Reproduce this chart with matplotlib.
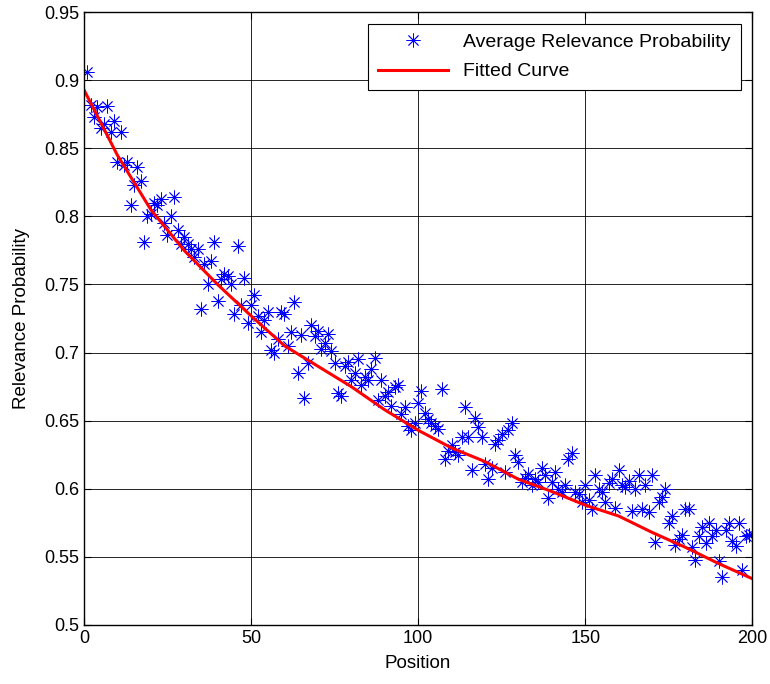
import matplotlib
matplotlib.use('Agg')
import matplotlib.pyplot as plt

plt.rcParams['font.family'] = ['Liberation Sans', 'DejaVu Sans']

# average relevance probability per position
position = list(range(1, 201))
relevance = [
    0.906, 0.882, 0.873, 0.880, 0.865, 0.868, 0.881, 0.862, 0.870, 0.840,
    0.862, 0.838, 0.840, 0.808, 0.823, 0.836, 0.826, 0.781, 0.800, 0.802,
    0.810, 0.808, 0.813, 0.795, 0.786, 0.800, 0.814, 0.790, 0.780, 0.785,
    0.780, 0.776, 0.770, 0.776, 0.732, 0.765, 0.750, 0.767, 0.781, 0.738,
    0.754, 0.758, 0.756, 0.750, 0.728, 0.778, 0.735, 0.755, 0.722, 0.735,
    0.742, 0.727, 0.715, 0.724, 0.730, 0.702, 0.700, 0.710, 0.730, 0.728,
    0.705, 0.715, 0.737, 0.685, 0.713, 0.667, 0.692, 0.720, 0.712, 0.716,
    0.703, 0.707, 0.714, 0.701, 0.692, 0.670, 0.668, 0.690, 0.693, 0.680,
    0.685, 0.695, 0.676, 0.682, 0.680, 0.688, 0.696, 0.665, 0.680, 0.668,
    0.671, 0.661, 0.675, 0.676, 0.655, 0.660, 0.646, 0.643, 0.648, 0.663,
    0.672, 0.656, 0.651, 0.648, 0.646, 0.644, 0.673, 0.622, 0.628, 0.632,
    0.627, 0.625, 0.638, 0.660, 0.638, 0.614, 0.652, 0.645, 0.638, 0.618,
    0.607, 0.615, 0.633, 0.636, 0.640, 0.612, 0.643, 0.648, 0.625, 0.620,
    0.605, 0.608, 0.611, 0.603, 0.607, 0.605, 0.615, 0.610, 0.593, 0.605,
    0.612, 0.600, 0.598, 0.603, 0.622, 0.626, 0.598, 0.596, 0.590, 0.603,
    0.592, 0.585, 0.610, 0.600, 0.598, 0.590, 0.604, 0.607, 0.586, 0.614,
    0.603, 0.601, 0.606, 0.584, 0.600, 0.610, 0.585, 0.603, 0.583, 0.610,
    0.561, 0.590, 0.594, 0.600, 0.575, 0.580, 0.559, 0.563, 0.566, 0.585,
    0.585, 0.557, 0.548, 0.565, 0.572, 0.560, 0.575, 0.565, 0.570, 0.547,
    0.535, 0.570, 0.575, 0.562, 0.558, 0.575, 0.540, 0.565, 0.566, 0.567,
]

# fitted curve
fit_x = [0, 10, 20, 30, 40, 50, 60, 70, 80, 90, 100,
         110, 120, 130, 140, 150, 160, 170, 180, 190, 200]
fit_y = [0.893, 0.845, 0.805, 0.775, 0.750, 0.727, 0.705, 0.690, 0.675, 0.658, 0.643,
         0.630, 0.620, 0.607, 0.598, 0.588, 0.580, 0.568, 0.557, 0.545, 0.534]

fig = plt.figure(figsize=(7.7, 6.84), dpi=100)
ax = fig.add_axes([0.109, 0.0863, 0.868, 0.896])

ax.plot(position, relevance, linestyle='none', marker=(8, 2, 0), markersize=10,
        markeredgewidth=0.6, color='#0000ff', label='Average Relevance Probability')
ax.plot(fit_x, fit_y, color='#ff0000', linewidth=2.2, label='Fitted Curve')

ax.set_xlim(0, 200)
ax.set_ylim(0.5, 0.95)
ax.set_xticks([0, 50, 100, 150, 200])
ax.set_yticks([0.5, 0.55, 0.6, 0.65, 0.7, 0.75, 0.8, 0.85, 0.9, 0.95])
ax.set_yticklabels(['0.5', '0.55', '0.6', '0.65', '0.7', '0.75', '0.8', '0.85', '0.9', '0.95'])
ax.grid(True, color='black', linestyle='-', linewidth=0.6)
ax.set_axisbelow(True)
ax.tick_params(direction='in', labelsize=13, length=5, top=True, right=True)
for s in ax.spines.values():
    s.set_linewidth(1.0)

ax.set_xlabel('Position', fontsize=13.5, labelpad=6)
ax.set_ylabel('Relevance Probability', fontsize=13.5, labelpad=10)

leg = ax.legend(loc='upper right', fontsize=14, fancybox=False, framealpha=1,
                edgecolor='black', borderpad=0.5, handlelength=3.6,
                labelspacing=0.6, borderaxespad=0.6)
leg.get_frame().set_linewidth(0.8)

fig.savefig('out.png', dpi=100)
